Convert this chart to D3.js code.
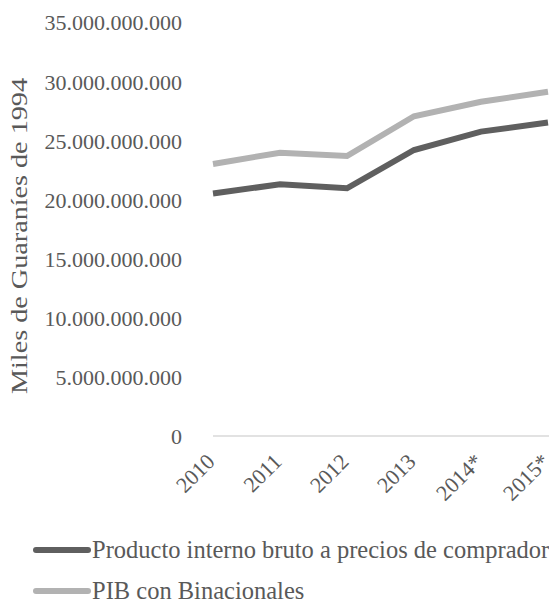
<!DOCTYPE html>
<html>
<head>
<meta charset="utf-8">
<script src="https://cdn.jsdelivr.net/npm/d3@7"></script>
<style>
  body { margin: 0; background: #fff; }
  text { font-family: "Liberation Serif", "Times New Roman", serif; fill: #595959; }
</style>
</head>
<body>
<script>
// data
var years = ["2010", "2011", "2012", "2013", "2014*", "2015*"];
var pib = [20500000000, 21280000000, 20940000000, 24180000000, 25730000000, 26500000000];
var pibBinacionales = [23000000000, 23950000000, 23670000000, 27030000000, 28260000000, 29100000000];
var yTicks = [0, 5000000000, 10000000000, 15000000000, 20000000000, 25000000000, 30000000000, 35000000000];
var seriesNames = ["Producto interno bruto a precios de comprador", "PIB con Binacionales"];
var seriesColors = ["#5f5f5f", "#b2b2b2"];

var width = 549,
    height = 604;

var svg = d3.select("body")
    .append("svg")
    .attr("width", width)
    .attr("height", height);

var x = d3.scalePoint()
    .domain(years)
    .range([213, 548]);

var y = d3.scaleLinear()
    .domain([0, 35000000000])
    .range([436, 22]);

var fmt = function(d){
    return d3.format(",")(d).replace(/,/g, ".");
};

// y tick labels
svg.selectAll(".ylab")
    .data(yTicks)
    .enter()
    .append("text")
    .attr("class", "ylab")
    .attr("x", 182)
    .attr("y", function(d){ return y(d); })
    .attr("dy", "0.38em")
    .attr("text-anchor", "end")
    .style("font-size", "22px")
    .text(fmt);

// baseline
svg.append("line")
    .attr("x1", x.range()[0])
    .attr("x2", width)
    .attr("y1", y(0))
    .attr("y2", y(0))
    .attr("stroke", "#d9d9d9")
    .attr("stroke-width", 1.5);

// x labels rotated
svg.selectAll(".xlab")
    .data(years)
    .enter()
    .append("text")
    .attr("class", "xlab")
    .attr("text-anchor", "end")
    .attr("transform", function(d){ return "translate(" + (x(d) + 3) + "," + 463 + ") rotate(-45)"; })
    .style("font-size", "22px")
    .text(function(d){ return d; });

// axis title
svg.append("text")
    .attr("transform", "translate(27,236) rotate(-90)")
    .attr("text-anchor", "middle")
    .attr("textLength", 316)
    .attr("lengthAdjust", "spacingAndGlyphs")
    .style("font-size", "23px")
    .text("Miles de Guaraníes de 1994");

var line = d3.line()
    .x(function(d, i){ return x(years[i]); })
    .y(function(d){ return y(d); });

svg.append("path")
    .datum(pibBinacionales)
    .attr("d", line)
    .attr("fill", "none")
    .attr("stroke", seriesColors[1])
    .attr("stroke-width", 6);

svg.append("path")
    .datum(pib)
    .attr("d", line)
    .attr("fill", "none")
    .attr("stroke", seriesColors[0])
    .attr("stroke-width", 6);

// legend
var legend = svg.selectAll(".legend")
    .data(seriesNames)
    .enter()
    .append("g")
    .attr("class", "legend")
    .attr("transform", function(d, i){ return "translate(0," + (550 + i * 41) + ")"; });

legend.append("line")
    .attr("x1", 36)
    .attr("x2", 88)
    .attr("stroke", function(d, i){ return seriesColors[i]; })
    .attr("stroke-width", 6)
    .attr("stroke-linecap", "round");

legend.append("text")
    .attr("x", 92)
    .attr("y", 8)
    .style("font-size", "24.5px")
    .text(function(d){ return d; });
</script>
</body>
</html>
